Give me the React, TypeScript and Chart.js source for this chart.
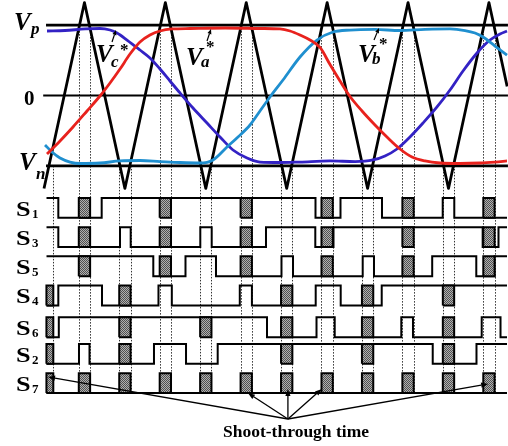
import React, { useEffect, useRef } from "react";
import { Chart, registerables } from "chart.js";

Chart.register(...registerables);

const FONT = '"Liberation Serif", "Times New Roman", serif';

// time unit = one half-period of the triangular carrier
const carrierT = [0, 1, 2, 3, 4, 5, 6, 7, 8, 9, 10, 11, 11.45];
const carrierV = [-1.32, 1.32, -1.32, 1.32, -1.32, 1.32, -1.32, 1.32, -1.32, 1.32, -1.32, 1.32, 0.13];

// DC-link levels Vp, 0, Vn
const levelValues = [1, 0, -1];
const levelStart = [0.05, -0.02, 0.05];
const levelEnd = 11.47;

// reference signals
const vaT = [0.074, 0.396, 0.717, 1.063, 1.384, 1.632, 1.879, 2.126, 2.373, 2.62, 2.868, 3.164, 3.609, 4.475, 5.34, 5.834, 6.082, 6.329, 6.576, 6.823, 7.071, 7.318, 7.565, 7.862, 8.183, 8.504, 8.801, 9.098, 9.419, 9.79, 10.284, 10.779, 11.15, 11.446];
const vaV = [-0.831, -0.646, -0.447, -0.22, -0.007, 0.178, 0.376, 0.589, 0.76, 0.859, 0.916, 0.945, 0.952, 0.959, 0.952, 0.945, 0.916, 0.859, 0.788, 0.682, 0.44, 0.206, -0.014, -0.22, -0.419, -0.604, -0.76, -0.874, -0.93, -0.959, -0.966, -0.959, -0.945, -0.93];

const vbT = [0.025, 0.198, 0.396, 0.643, 0.89, 1.384, 1.879, 2.373, 2.868, 3.362, 3.857, 4.178, 4.524, 4.796, 5.093, 5.34, 5.587, 5.908, 6.329, 6.749, 7.145, 7.565, 8.183, 8.801, 9.419, 10.037, 10.408, 10.655, 10.853, 11.15, 11.446];
const vbV = [-0.703, -0.803, -0.888, -0.945, -0.966, -0.959, -0.93, -0.923, -0.938, -0.952, -0.959, -0.916, -0.732, -0.589, -0.419, -0.22, -0.021, 0.22, 0.547, 0.788, 0.902, 0.93, 0.938, 0.923, 0.938, 0.945, 0.923, 0.888, 0.831, 0.703, 0.575];

const vcT = [0.074, 0.519, 1.014, 1.384, 1.632, 1.805, 2.052, 2.373, 2.62, 2.868, 3.115, 3.362, 3.684, 4.03, 4.351, 4.672, 5.019, 5.34, 5.834, 6.329, 7.071, 7.689, 8.134, 8.43, 8.727, 9.048, 9.37, 9.716, 10.037, 10.359, 10.705, 11.026, 11.273, 11.446];
const vcV = [0.916, 0.923, 0.945, 0.952, 0.93, 0.888, 0.788, 0.646, 0.533, 0.376, 0.206, 0.036, -0.178, -0.391, -0.589, -0.774, -0.888, -0.945, -0.952, -0.945, -0.93, -0.938, -0.916, -0.859, -0.76, -0.589, -0.391, -0.163, 0.078, 0.348, 0.604, 0.788, 0.874, 0.916];

// shoot-through intervals (one at every carrier peak / trough)
const shootStart = [0.06, 0.86, 1.86, 2.86, 3.86, 4.86, 5.86, 6.86, 7.86, 8.86, 9.86, 10.86];
const shootEnd = [0.23, 1.14, 2.14, 3.14, 4.14, 5.14, 6.14, 7.14, 8.14, 9.14, 10.14, 11.14];

// gate signals: level holds from each time until the next
const gateEnd = 11.446;
const s1Times = [0.062, 0.354, 1.426, 6.712, 7.33, 8.356, 9.857, 10.143];
const s1Levels = [1, 0, 1, 0, 1, 0, 1, 0];
const s3Times = [0.062, 0.354, 1.879, 2.143, 3.864, 4.146, 5.488, 6.707, 7.157, 10.845, 11.236];
const s3Levels = [1, 0, 1, 0, 1, 0, 1, 0, 1, 0, 1];
const s5Times = [0.062, 2.702, 3.498, 4.252, 5.871, 6.156, 7.879, 8.158, 9.597, 10.687, 11.137];
const s5Levels = [1, 0, 1, 0, 1, 0, 1, 0, 1, 0, 1];
const s4Times = [0.062, 0.354, 1.434, 2.83, 3.16, 4.84, 5.14, 6.717, 7.335, 8.349];
const s4Levels = [0, 1, 0, 1, 0, 1, 0, 1, 0, 1];
const s6Times = [0.062, 0.366, 5.513, 6.737, 7.187, 8.833, 9.122, 10.821, 11.286];
const s6Levels = [0, 1, 0, 1, 0, 1, 0, 1, 0];
const s2Times = [0.062, 0.865, 1.125, 2.719, 3.511, 4.294, 9.61, 10.692];
const s2Levels = [0, 1, 0, 1, 0, 1, 0, 1];
const s7Times = [0.062];
const s7Levels = [0];

// shoot-through boxes per row (indices into shootStart/shootEnd)
const s1Boxes = [1, 3, 5, 7, 9, 11];
const s3Boxes = [1, 3, 5, 7, 9, 11];
const s5Boxes = [1, 3, 5, 7, 9, 11];
const s4Boxes = [0, 2, 6, 8, 10];
const s6Boxes = [0, 2, 4, 6, 8, 10];
const s2Boxes = [0, 2, 6, 8, 10];
const s7Boxes = [0, 1, 2, 3, 4, 5, 6, 7, 8, 9, 10, 11];

const rowNames = ["1", "3", "5", "4", "6", "2", "7"];
const rowBase = [6, 5, 4, 3, 1.91, 1, 0];
const rowHigh = 0.68;

// annotation arrows to shoot-through boxes (t, gate units)
const noteOrigin = [6.03, -0.89];
const noteTargetT = [0.1, 5.04, 6.03, 6.87, 10.98];
const noteTargetG = [0.55, 0.0, 0.14, 0.14, 0.31];

function arrow(ctx: CanvasRenderingContext2D, x1: number, y1: number, x2: number, y2: number, hl = 7, hw = 2.6) {
  const a = Math.atan2(y2 - y1, x2 - x1);
  const bx = x2 - hl * Math.cos(a);
  const by = y2 - hl * Math.sin(a);
  ctx.beginPath();
  ctx.moveTo(x1, y1);
  ctx.lineTo(bx, by);
  ctx.stroke();
  ctx.beginPath();
  ctx.moveTo(x2, y2);
  ctx.lineTo(bx + hw * Math.sin(a), by - hw * Math.cos(a));
  ctx.lineTo(bx - hw * Math.sin(a), by + hw * Math.cos(a));
  ctx.closePath();
  ctx.fill();
}

const guidesPlugin = {
  id: "guides",
  beforeDatasetsDraw(chart: any) {
    const { ctx, scales } = chart;
    const x = scales.x, yv = scales.yv, yg = scales.yg;
    const yb = yg.getPixelForValue(0);
    ctx.save();
    ctx.strokeStyle = "#333";
    ctx.lineWidth = 1;
    ctx.setLineDash([1.5, 1.5]);
    shootStart.forEach((s, k) => {
      const top = yv.getPixelForValue(k % 2 ? levelValues[0] : levelValues[2]);
      const edges = k === 0 ? [shootEnd[k]] : [s, shootEnd[k]];
      edges.forEach((t) => {
        const px = Math.round(x.getPixelForValue(t)) + 0.5;
        ctx.beginPath();
        ctx.moveTo(px, top);
        ctx.lineTo(px, yb);
        ctx.stroke();
      });
    });
    ctx.restore();
  },
};

const labelsPlugin = {
  id: "labels",
  afterDatasetsDraw(chart: any) {
    const { ctx, scales } = chart;
    const x = scales.x, yg = scales.yg;
    ctx.save();
    ctx.fillStyle = "#000";
    ctx.strokeStyle = "#000";
    ctx.textBaseline = "alphabetic";
    ctx.textAlign = "left";
    const t = (s: string, px: number, py: number, font: string) => {
      ctx.font = font;
      ctx.fillText(s, px, py);
    };
    const BI = (n: number) => `italic bold ${n}px ${FONT}`;
    const B = (n: number) => `bold ${n}px ${FONT}`;
    // level labels
    t("V", 14, 30, BI(25));
    t("p", 31, 34, BI(17));
    t("0", 24, 105, B(21));
    t("V", 19, 170, BI(25));
    t("n", 36, 179, BI(17));
    // reference labels
    t("V", 96, 62, BI(25));
    t("c", 111, 67, BI(17));
    t("*", 120, 55, B(17));
    t("V", 186, 65, BI(25));
    t("a", 201, 67, BI(17));
    t("*", 206, 52, B(17));
    t("V", 358, 62, BI(25));
    t("b", 372, 64, BI(17));
    t("*", 379, 49, B(17));
    ctx.lineWidth = 1.2;
    arrow(ctx, 112, 42, 116, 30, 5, 2);
    arrow(ctx, 207, 41, 211, 29, 5, 2);
    arrow(ctx, 374, 40, 379, 28, 5, 2);
    // gate row labels
    rowNames.forEach((n, r) => {
      const yb = yg.getPixelForValue(rowBase[r]);
      ctx.save();
      ctx.translate(16, yb - 2);
      ctx.scale(1.25, 1);
      ctx.font = B(21);
      ctx.fillText("S", 0, 0);
      ctx.restore();
      t(n, 32, yb, B(13));
    });
    // shoot-through annotation
    const ox = x.getPixelForValue(noteOrigin[0]);
    const oy = yg.getPixelForValue(noteOrigin[1]);
    ctx.lineWidth = 1.3;
    noteTargetT.forEach((tt, i) => {
      arrow(ctx, ox, oy, x.getPixelForValue(tt), yg.getPixelForValue(noteTargetG[i]), 7, 2.6);
    });
    ctx.textAlign = "center";
    t("Shoot-through time", 296, 437, B(17.5));
    ctx.restore();
  },
};

export default function App() {
  const ref = useRef<HTMLCanvasElement | null>(null);
  useEffect(() => {
    const canvas = ref.current;
    if (!canvas) return;
    const c2 = canvas.getContext("2d")!;
    const pc = document.createElement("canvas");
    pc.width = 2;
    pc.height = 2;
    const pctx = pc.getContext("2d")!;
    pctx.fillStyle = "#b0b0b0";
    pctx.fillRect(0, 0, 2, 2);
    pctx.fillStyle = "#505050";
    pctx.fillRect(0, 0, 1, 1);
    pctx.fillRect(1, 1, 1, 1);
    const hatch = c2.createPattern(pc, "repeat");

    const pts = (xs: number[], ys: number[]) => xs.map((v, i) => ({ x: v, y: ys[i] }));
    const datasets: any[] = [];

    // reference curves
    const refs = [
      { xs: vaT, ys: vaV, color: "#e8221d" },
      { xs: vbT, ys: vbV, color: "#1f8fcf" },
      { xs: vcT, ys: vcV, color: "#3322c4" },
    ];
    refs.forEach((r) =>
      datasets.push({
        data: pts(r.xs, r.ys),
        yAxisID: "yv",
        borderColor: r.color,
        borderWidth: 2.8,
        cubicInterpolationMode: "monotone",
        pointRadius: 0,
        fill: false,
        order: 3,
      })
    );
    // carrier
    datasets.push({
      data: pts(carrierT, carrierV),
      yAxisID: "yv",
      borderColor: "#000",
      borderWidth: 2.8,
      borderJoinStyle: "round",
      tension: 0,
      pointRadius: 0,
      fill: false,
      order: 4,
    });
    // levels
    levelValues.forEach((v, i) =>
      datasets.push({
        data: [
          { x: levelStart[i], y: v },
          { x: levelEnd, y: v },
        ],
        yAxisID: "yv",
        borderColor: "#000",
        borderWidth: i === 1 ? 2 : 2.6,
        pointRadius: 0,
        fill: false,
        order: 5,
      })
    );

    const rows = [
      { times: s1Times, levels: s1Levels, boxes: s1Boxes },
      { times: s3Times, levels: s3Levels, boxes: s3Boxes },
      { times: s5Times, levels: s5Levels, boxes: s5Boxes },
      { times: s4Times, levels: s4Levels, boxes: s4Boxes },
      { times: s6Times, levels: s6Levels, boxes: s6Boxes },
      { times: s2Times, levels: s2Levels, boxes: s2Boxes },
      { times: s7Times, levels: s7Levels, boxes: s7Boxes },
    ];
    rows.forEach((row, r) => {
      const b = rowBase[r];
      const data = row.times.map((tt, i) => ({ x: tt, y: b + row.levels[i] * rowHigh }));
      data.push({ x: gateEnd, y: b + row.levels[row.levels.length - 1] * rowHigh });
      datasets.push({
        data,
        yAxisID: "yg",
        borderColor: "#000",
        borderWidth: 2,
        stepped: "before",
        pointRadius: 0,
        fill: false,
        order: 2,
      });
      row.boxes.forEach((k) => {
        const s = shootStart[k], e = shootEnd[k];
        datasets.push({
          data: [
            { x: s, y: b },
            { x: s, y: b + rowHigh },
            { x: e, y: b + rowHigh },
            { x: e, y: b },
            { x: s, y: b },
          ],
          yAxisID: "yg",
          borderColor: "#000",
          borderWidth: 2,
          borderJoinStyle: "miter",
          backgroundColor: hatch,
          fill: "shape",
          tension: 0,
          pointRadius: 0,
          order: 0,
        });
      });
    });

    const chart = new Chart(canvas, {
      type: "line",
      data: { datasets },
      options: {
        animation: false,
        responsive: false,
        events: [],
        layout: { padding: 0 },
        plugins: {
          legend: { display: false },
          tooltip: { enabled: false },
          title: { display: false },
        },
        scales: {
          x: { type: "linear", min: -1.0878, max: 11.471, display: false },
          yv: { type: "linear", min: -4.97869, max: 1.35653, display: false },
          yg: { type: "linear", min: -1.81507, max: 13.4589, display: false },
        },
      } as any,
      plugins: [guidesPlugin, labelsPlugin],
    });
    return () => chart.destroy();
  }, []);

  return (
    <div style={{ position: "absolute", left: 0, top: 0, width: 508, height: 446, background: "#fff" }}>
      <canvas ref={ref} width={508} height={446} style={{ display: "block" }} />
    </div>
  );
}
